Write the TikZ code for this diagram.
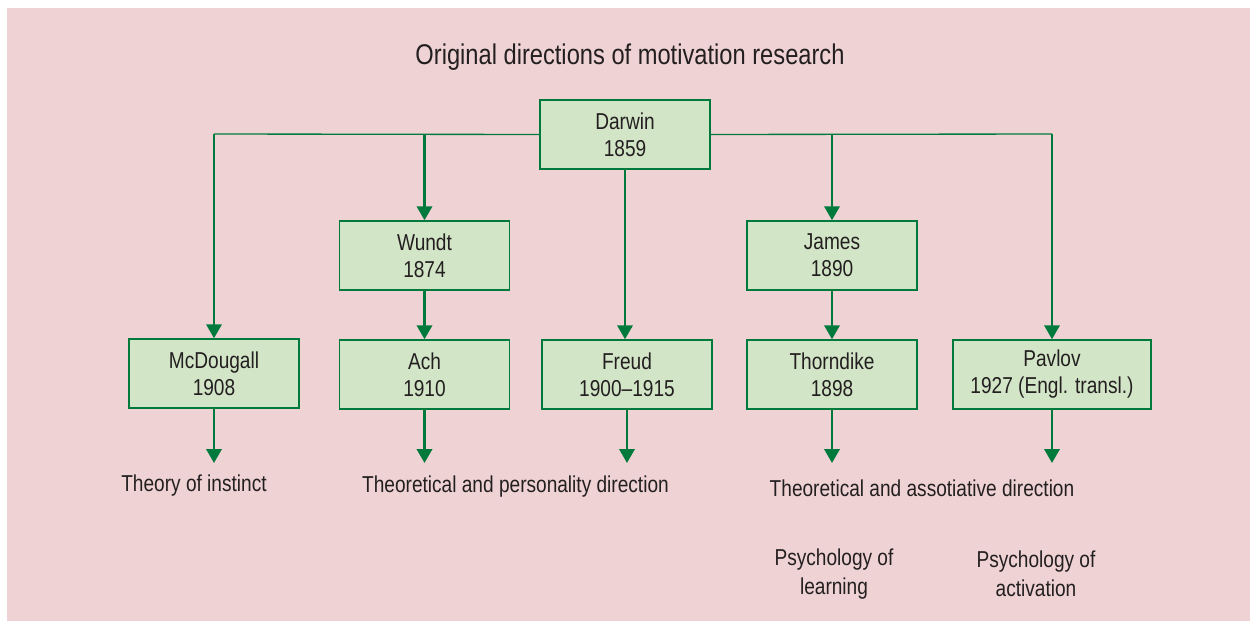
\documentclass[tikz,border=0pt]{standalone}
\usepackage{fontspec}
\setmainfont{Liberation Sans}[FakeStretch=0.83]
\usetikzlibrary{arrows.meta}
\definecolor{bgpink}{HTML}{EFD3D4}
\definecolor{boxfill}{HTML}{D3E5C7}
\definecolor{lgreen}{HTML}{007A3C}
\definecolor{txt}{HTML}{231F20}
\tikzset{
  box/.style={draw=lgreen, line width=1.1pt, fill=boxfill, minimum width=127.5pt,
    minimum height=51.75pt, inner sep=0pt, align=center, text=txt,
    font=\fontsize{17.25pt}{20.25pt}\selectfont},
  lbl/.style={inner sep=0pt, align=center, text=txt, font=\fontsize{17.25pt}{21.5pt}\selectfont},
  bus/.style={draw=lgreen, line width=1pt},
  arr/.style={draw=lgreen, line width=2pt, -{Triangle[width=11.5pt,length=10.5pt]}},
}
\begin{document}
\begin{tikzpicture}[x=0.75pt,y=-0.75pt]
\useasboundingbox (0,0) rectangle (1250,621);
\fill[bgpink] (7,8) rectangle (1250,621);
\node[lbl, font=\fontsize{21.4pt}{26pt}\selectfont] (title) at (630,57) {Original directions of motivation research};
\node[box] (darwin) at (625,134.5) {Darwin\\1859};
\node[box] (wundt) at (424.5,255.5) {Wundt\\1874};
\node[box] (james) at (832,255.5) {James\\1890};
\node[box] (mcd) at (214,373.5) {McDougall\\1908};
\node[box] (ach) at (424.5,374.5) {Ach\\1910};
\node[box] (freud) at (627,374.5) {Freud\\1900–1915};
\node[box] (thorn) at (832,374.5) {Thorndike\\1898};
\node[box, minimum width=148.5pt] (pavlov) at (1052,374.5) {Pavlov\\1927 (Engl. transl.)};
% bus
\coordinate (bL) at (214,134);
\coordinate (bW) at (424.5,134);
\coordinate (bJ) at (832,134);
\coordinate (bR) at (1052,134);
\draw[bus] (darwin.west) -- (bL);
\draw[bus] (darwin.east) -- (bR);
\draw[arr] (bL) -- (mcd.north);
\draw[arr] (bW) -- (wundt.north);
\draw[arr] (bJ) -- (james.north);
\draw[arr] (bR) -- (pavlov.north);
\draw[arr] (darwin.south) -- (darwin.south |- freud.north);
\draw[arr] (wundt) -- (ach);
\draw[arr] (james) -- (thorn);
% down arrows
\coordinate (eM) at (214,463);
\coordinate (eA) at (424.5,463);
\coordinate (eF) at (627,463);
\coordinate (eT) at (832,463);
\coordinate (eP) at (1052,463);
\draw[arr] (mcd.south) -- (eM);
\draw[arr] (ach.south) -- (eA);
\draw[arr] (freud.south) -- (eF);
\draw[arr] (thorn.south) -- (eT);
\draw[arr] (pavlov.south) -- (eP);
% labels
\node[lbl] (l1) at (194,486) {Theory of instinct};
\node[lbl] (l2) at (515.5,487) {Theoretical and personality direction};
\node[lbl] (l3) at (922,488) {Theoretical and assotiative direction};
\node[lbl] (l4) at (834,574) {Psychology of\\learning};
\node[lbl] (l5) at (1036,574) {Psychology of\\activation};
\end{tikzpicture}
\end{document}
